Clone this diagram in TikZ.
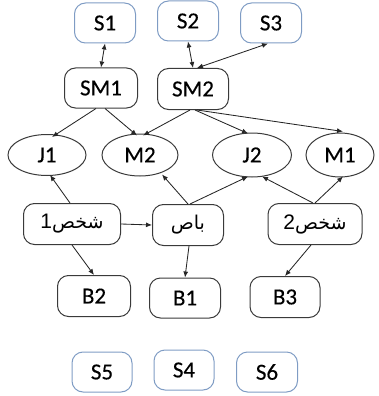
\documentclass[tikz,border=0pt]{standalone}
\usepackage{fontspec}
\setmainfont[FakeBold=0.3]{Carlito}
\newfontfamily\arabicfont[Script=Arabic]{DejaVu Sans}
\newfontfamily\digitfont{Liberation Sans}
\TeXXeTstate=1
\usetikzlibrary{arrows.meta,shapes.geometric}
\definecolor{boxline}{HTML}{3A3A3A}
\definecolor{srvline}{HTML}{7F9CC4}
\tikzset{
  every node/.style={font=\fontsize{23}{26}\selectfont, inner sep=0pt},
  blk/.style={draw=boxline, line width=1pt, rounded corners=11pt,
    minimum height=40pt},
  srv/.style={draw=srvline, line width=1pt, rounded corners=11pt,
    minimum width=61pt, minimum height=40pt},
  ell/.style={draw=boxline, line width=1pt, ellipse},
  arr/.style={line width=0.85pt, draw=black!85, -{Latex[length=6pt,width=5pt]}},
  biarr/.style={line width=0.85pt, draw=black!85,
    {Latex[length=6pt,width=5pt]}-{Latex[length=6pt,width=5pt]}},
  ar/.style={font=\fontsize{19}{22}\selectfont\arabicfont}
}
\newcommand{\dg}[1]{{\digitfont\fontsize{21}{23}\selectfont #1}}
\begin{document}
\begin{tikzpicture}[x=1pt,y=-1pt]
\useasboundingbox (0,0) rectangle (378,396);

% top row of S boxes
\node[srv] (s1) at (105,23) {S1};
\node[srv] (s2) at (188,21) {S2};
\node[srv] (s3) at (271,23) {S3};

% SM boxes
\node[blk, minimum width=73pt] (sm1) at (101,88) {SM1};
\node[blk, minimum width=71pt, minimum height=41pt] (sm2) at (193,89) {SM2};

% ellipses
\node[ell, minimum width=78pt, minimum height=41pt] (j1) at (47,155) {J1};
\node[ell, minimum width=76pt, minimum height=42pt] (m2) at (140,155) {M2};
\node[ell, minimum width=79pt, minimum height=44pt] (j2) at (252,155) {J2};
\node[ell, minimum width=68pt, minimum height=44pt] (m1) at (340,155) {M1};

% middle row
\node[blk, ar, minimum width=97pt, minimum height=41pt] (p1) at (72,224)
  {\beginR شخص\dg{1}\endR};
\node[blk, ar, minimum width=71pt, minimum height=41pt] (bus) at (188,225)
  {\beginR باص\endR};
\node[blk, ar, minimum width=94pt, minimum height=41pt] (p2) at (315,224)
  {\beginR شخص\dg{2}\endR};

% B boxes
\node[blk, minimum width=73pt, minimum height=41pt] (b2) at (94,296) {B2};
\node[blk, minimum width=71pt] (b1) at (185,298) {B1};
\node[blk, minimum width=70pt, minimum height=41pt] (b3) at (285,297) {B3};

% bottom row of S boxes
\node[srv, minimum width=60pt] (s5) at (102,372) {S5};
\node[srv, minimum width=60pt] (s4) at (184,370) {S4};
\node[srv] (s6) at (267,372) {S6};

% connectors
\draw[biarr] (s1.south) -- (sm1.north);
\draw[biarr] (s2.south) -- (sm2.north);
\draw[biarr] ([xshift=-3pt]s3.south) -- ([xshift=4pt]sm2.north);

\draw[arr] ([xshift=-5pt]sm1.south) -- ([xshift=5pt,yshift=-3pt]j1.north);
\draw[arr] ([xshift=4pt]sm1.south) -- ([xshift=-3pt,yshift=-2pt]m2.north);
\draw[arr] ([xshift=-3pt]sm2.south) -- ([xshift=3pt,yshift=-2pt]m2.north);
\draw[arr] ([xshift=2pt]sm2.south) -- ([xshift=-4pt,yshift=-1pt]j2.north);
\draw[arr] ([xshift=4pt]sm2.south) -- ([xshift=3pt,yshift=1pt]m1.north);

\draw[arr] ([xshift=-2pt]p1.north) -- ([xshift=3pt,yshift=1pt]j1.south);
\draw[arr] (p1.east) -- (bus.west);
\draw[arr] (bus.north) -- ([xshift=22pt,yshift=2pt]m2.south);
\draw[arr] ([xshift=2pt]bus.north) -- ([xshift=-4pt,yshift=1pt]j2.south);
\draw[arr] ([xshift=-2pt]p2.north) -- ([xshift=10pt,yshift=1pt]j2.south);
\draw[arr] (p2.north) -- ([xshift=3pt,yshift=1pt]m1.south);

\draw[arr] (p1.south) -- (b2.north);
\draw[arr] ([xshift=1pt]bus.south) -- (b1.north);
\draw[arr] ([xshift=-4pt]p2.south) -- (b3.north);
\end{tikzpicture}
\end{document}
